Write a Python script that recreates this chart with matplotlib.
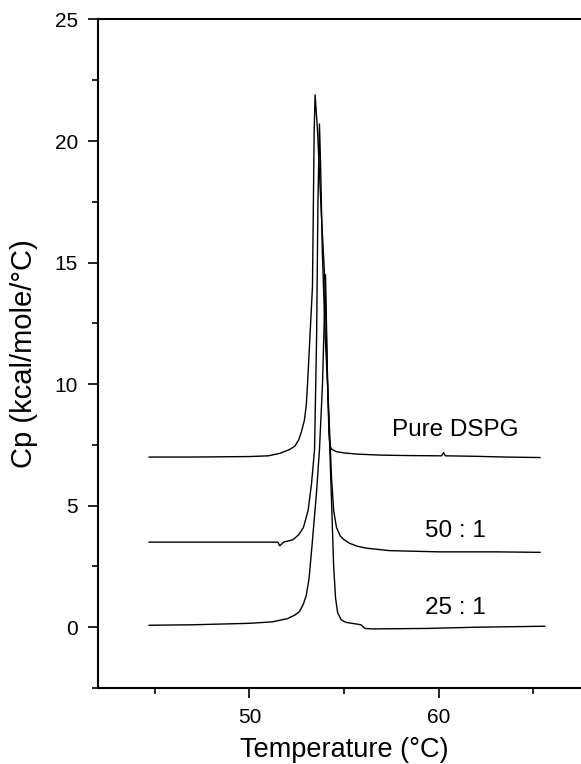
import numpy as np
import matplotlib.pyplot as plt
from matplotlib.ticker import MultipleLocator

plt.rcParams['font.family'] = ['Liberation Sans', 'DejaVu Sans']

# DSC traces (temperature in degC, Cp in kcal/mole/degC)
pure_T = [44.7, 47.0, 50.0, 51.0, 51.6, 52.1, 52.4, 52.6, 52.75, 52.9, 53.0, 53.07, 53.2, 53.33,
          53.42, 53.47, 53.6, 53.8, 54.0, 54.13, 54.2, 54.26, 54.35, 54.6, 55.0, 55.7,
          56.9, 58.5, 60.15, 60.26, 60.35, 62.0, 63.5, 65.35]
pure_Cp = [7.0, 7.0, 7.02, 7.05, 7.15, 7.3, 7.45, 7.7, 8.05, 8.5, 9.1, 10.0, 12.0, 14.0,
           20.4, 21.9, 20.4, 17.0, 14.0, 10.0, 8.0, 7.45, 7.32, 7.22, 7.17, 7.12,
           7.08, 7.06, 7.05, 7.18, 7.05, 7.03, 7.0, 6.98]

r50_T = [44.7, 47.0, 50.0, 51.0, 51.5, 51.6, 51.65, 51.8, 52.3, 52.6, 52.85, 53.1, 53.28,
         53.44, 53.55, 53.62, 53.7, 53.76, 53.85, 54.0, 54.13, 54.34, 54.45, 54.6, 54.8,
         55.0, 55.3, 55.7, 56.2, 57.4, 60.0, 63.0, 65.35]
r50_Cp = [3.5, 3.5, 3.5, 3.5, 3.5, 3.35, 3.38, 3.5, 3.6, 3.8, 4.1, 4.8, 5.9,
          7.3, 12.0, 17.5, 20.7, 19.0, 15.5, 12.0, 10.0, 6.1, 4.8, 4.1, 3.75,
          3.6, 3.45, 3.33, 3.25, 3.15, 3.1, 3.1, 3.08]

r25_T = [44.7, 47.0, 50.0, 51.2, 52.0, 52.4, 52.65, 52.85, 53.0, 53.15, 53.3, 53.54, 53.7,
         53.86, 54.02, 54.13, 54.3, 54.45, 54.55, 54.66, 54.85, 55.1, 55.5, 55.9,
         56.1, 56.5, 58.0, 59.4, 62.0, 65.6]
r25_Cp = [0.08, 0.1, 0.16, 0.22, 0.35, 0.5, 0.65, 0.95, 1.3, 2.0, 3.3, 5.5, 7.3,
          10.0, 14.5, 10.0, 6.1, 2.5, 1.2, 0.6, 0.3, 0.2, 0.15, 0.1,
          -0.05, -0.07, -0.06, -0.05, 0.0, 0.04]

labels = ['Pure DSPG', '50 : 1', '25 : 1']
label_pos = [(60.9, 8.1), (60.9, 3.95), (60.9, 0.8)]

fig = plt.figure(figsize=(5.81, 7.64), dpi=100)
ax = fig.add_axes([0.1687, 0.0995, 0.847, 0.875])

for T, cp in [(pure_T, pure_Cp), (r50_T, r50_Cp), (r25_T, r25_Cp)]:
    ax.plot(T, cp, color='black', lw=1.0)

for txt, (x, y) in zip(labels, label_pos):
    ax.text(x, y, txt, fontsize=17.5, ha='center', va='center')

ax.set_xlim(42, 68)
ax.set_ylim(-2.5, 25)
ax.xaxis.set_major_locator(MultipleLocator(10))
ax.xaxis.set_minor_locator(MultipleLocator(5))
ax.yaxis.set_major_locator(MultipleLocator(5))
ax.yaxis.set_minor_locator(MultipleLocator(2.5))

for side in ['left', 'top', 'bottom']:
    ax.spines[side].set_linewidth(1.5)
ax.spines['right'].set_visible(False)

ax.tick_params(which='major', direction='out', length=7.5, width=1.2,
               labelsize=15, pad=7)
ax.tick_params(which='minor', direction='out', length=4.5, width=1.2)

ax.set_xlabel('Temperature (°C)', fontsize=19.5, labelpad=7)
ax.set_ylabel('Cp (kcal/mole/°C)', fontsize=21, labelpad=12)

fig.savefig('out.png', dpi=100)
